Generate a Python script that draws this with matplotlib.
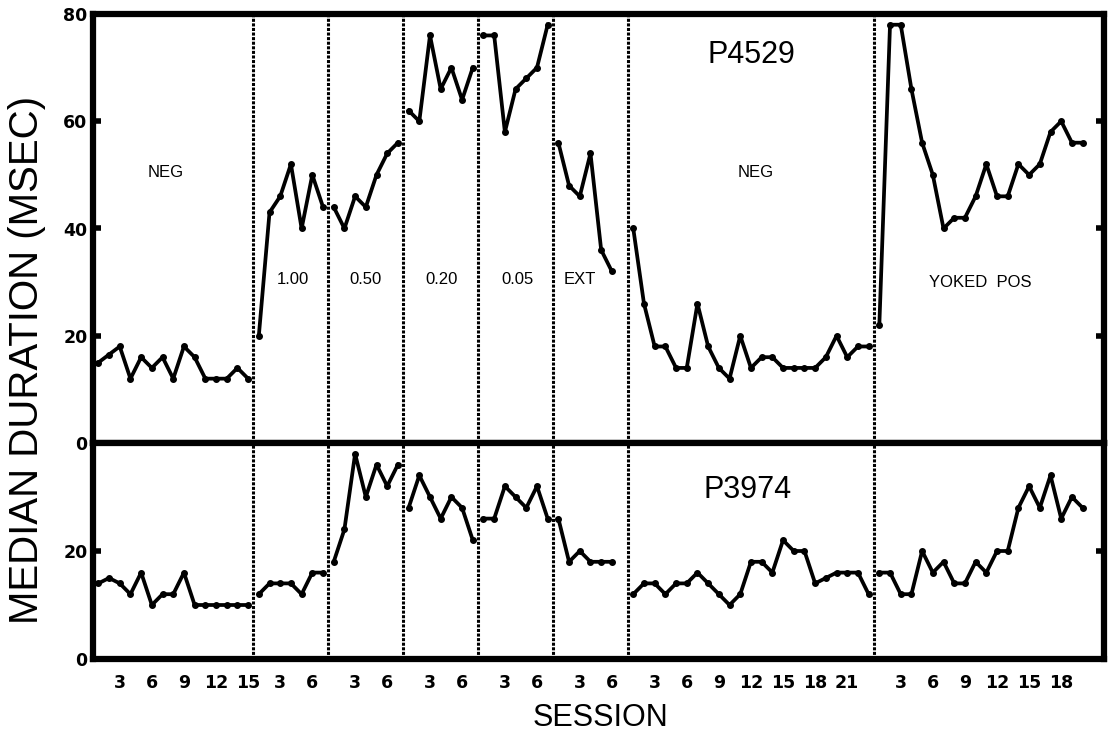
import numpy as np
import matplotlib
matplotlib.use('Agg')
from matplotlib import pyplot as plt

# phase names and number of session slots each phase takes on the x axis
phases = ['NEG', '1.00', '0.50', '0.20', '0.05', 'EXT', 'NEG', 'YOKED POS']
phase_slots = [15, 7, 7, 7, 7, 7, 23, 20]

# P4529 median duration (msec), one list per phase
p4529 = [
    [15, 16.5, 18, 12, 16, 14, 16, 12, 18, 16, 12, 12, 12, 14, 12],
    [20, 43, 46, 52, 40, 50, 44],
    [44, 40, 46, 44, 50, 54, 56],
    [62, 60, 76, 66, 70, 64, 70],
    [76, 76, 58, 66, 68, 70, 78],
    [56, 48, 46, 54, 36, 32],
    [40, 26, 18, 18, 14, 14, 26, 18, 14, 12, 20, 14, 16, 16, 14, 14, 14, 14,
     16, 20, 16, 18, 18],
    [22, 78, 78, 66, 56, 50, 40, 42, 42, 46, 52, 46, 46, 52, 50, 52, 58, 60,
     56, 56],
]

# P3974 median duration (msec)
p3974 = [
    [14, 15, 14, 12, 16, 10, 12, 12, 16, 10, 10, 10, 10, 10, 10],
    [12, 14, 14, 14, 12, 16, 16],
    [18, 24, 38, 30, 36, 32, 36],
    [28, 34, 30, 26, 30, 28, 22],
    [26, 26, 32, 30, 28, 32, 26],
    [26, 18, 20, 18, 18, 18],
    [12, 14, 14, 12, 14, 14, 16, 14, 12, 10, 12, 18, 18, 16, 22, 20, 20, 14,
     15, 16, 16, 16, 12],
    [16, 16, 12, 12, 20, 16, 18, 14, 14, 18, 16, 20, 20, 28, 32, 28, 34, 26,
     30, 28],
]

starts = np.cumsum([0] + phase_slots[:-1]) + 1

fig = plt.figure(figsize=(11.11, 7.38), dpi=100)
ax1 = fig.add_axes([93 / 1111, 1 - 443 / 738, 1011 / 1111, 429 / 738])
ax2 = fig.add_axes([93 / 1111, 1 - 659 / 738, 1011 / 1111, 216 / 738])

tickfont = dict(family='DejaVu Sans', weight='bold', size=12.5)


def draw_panel(ax, data, ymax, yticks):
    for s0, vals in zip(starts, data):
        x = np.arange(s0, s0 + len(vals))
        ax.plot(x, vals, color='black', lw=2.7, marker='o', ms=4,
                solid_joinstyle='round')
    for s0 in starts[1:]:
        ax.axvline(s0 - 0.5, color='black', lw=2.2, ls=(0, (1, 0.5)))
    ax.set_xlim(0.5, 95)
    ax.set_ylim(0, ymax)
    for sp in ax.spines.values():
        sp.set_linewidth(4.5)
    ax.set_yticks(yticks)
    ax.tick_params(axis='y', direction='in', length=6, width=4, pad=4,
                   left=True, right=True)
    ax.tick_params(axis='x', length=0)


draw_panel(ax1, p4529, 80, [0, 20, 40, 60, 80])
draw_panel(ax2, p3974, 40, [0, 20])
ax1.set_xticks([])
ax1.set_yticklabels(['0', '20', '40', '60', '80'], **tickfont)
ax2.set_yticklabels(['0', '20'], **tickfont)

# session ticks restart at 3, 6, 9 ... within every phase
xt, xl = [], []
for s0, vals in zip(starts, p4529):
    for n in range(3, len(vals) + 1, 3):
        xt.append(s0 + n - 1)
        xl.append(str(n))
ax2.set_xticks(xt)
ax2.set_xticklabels(xl, **tickfont)
ax2.tick_params(axis='x', pad=11)

lab = dict(family='Liberation Sans', size=12, ha='center', va='center')
ax1.text(7.3, 50.5, 'NEG', **lab)
ax1.text(19.2, 30.5, '1.00', **lab)
ax1.text(26, 30.5, '0.50', **lab)
ax1.text(33.1, 30.5, '0.20', **lab)
ax1.text(40.2, 30.5, '0.05', **lab)
ax1.text(46, 30.5, 'EXT', **lab)
ax1.text(62.4, 50.5, 'NEG', **lab)
ax1.text(83.4, 30, 'YOKED  POS', **lab)
ax1.text(62.0, 72.3, 'P4529', family='Liberation Sans', size=22,
         ha='center', va='center')
ax2.text(61.7, 31.3, 'P3974', family='Liberation Sans', size=22,
         ha='center', va='center')

fig.text(27 / 1111, 1 - 360 / 738, 'MEDIAN DURATION (MSEC)', rotation=90,
         family='Liberation Sans', size=29, ha='center', va='center')
fig.text(600 / 1111, 1 - 718 / 738, 'SESSION', family='Liberation Sans',
         size=22, ha='center', va='center')

fig.savefig('out.png', dpi=100)
